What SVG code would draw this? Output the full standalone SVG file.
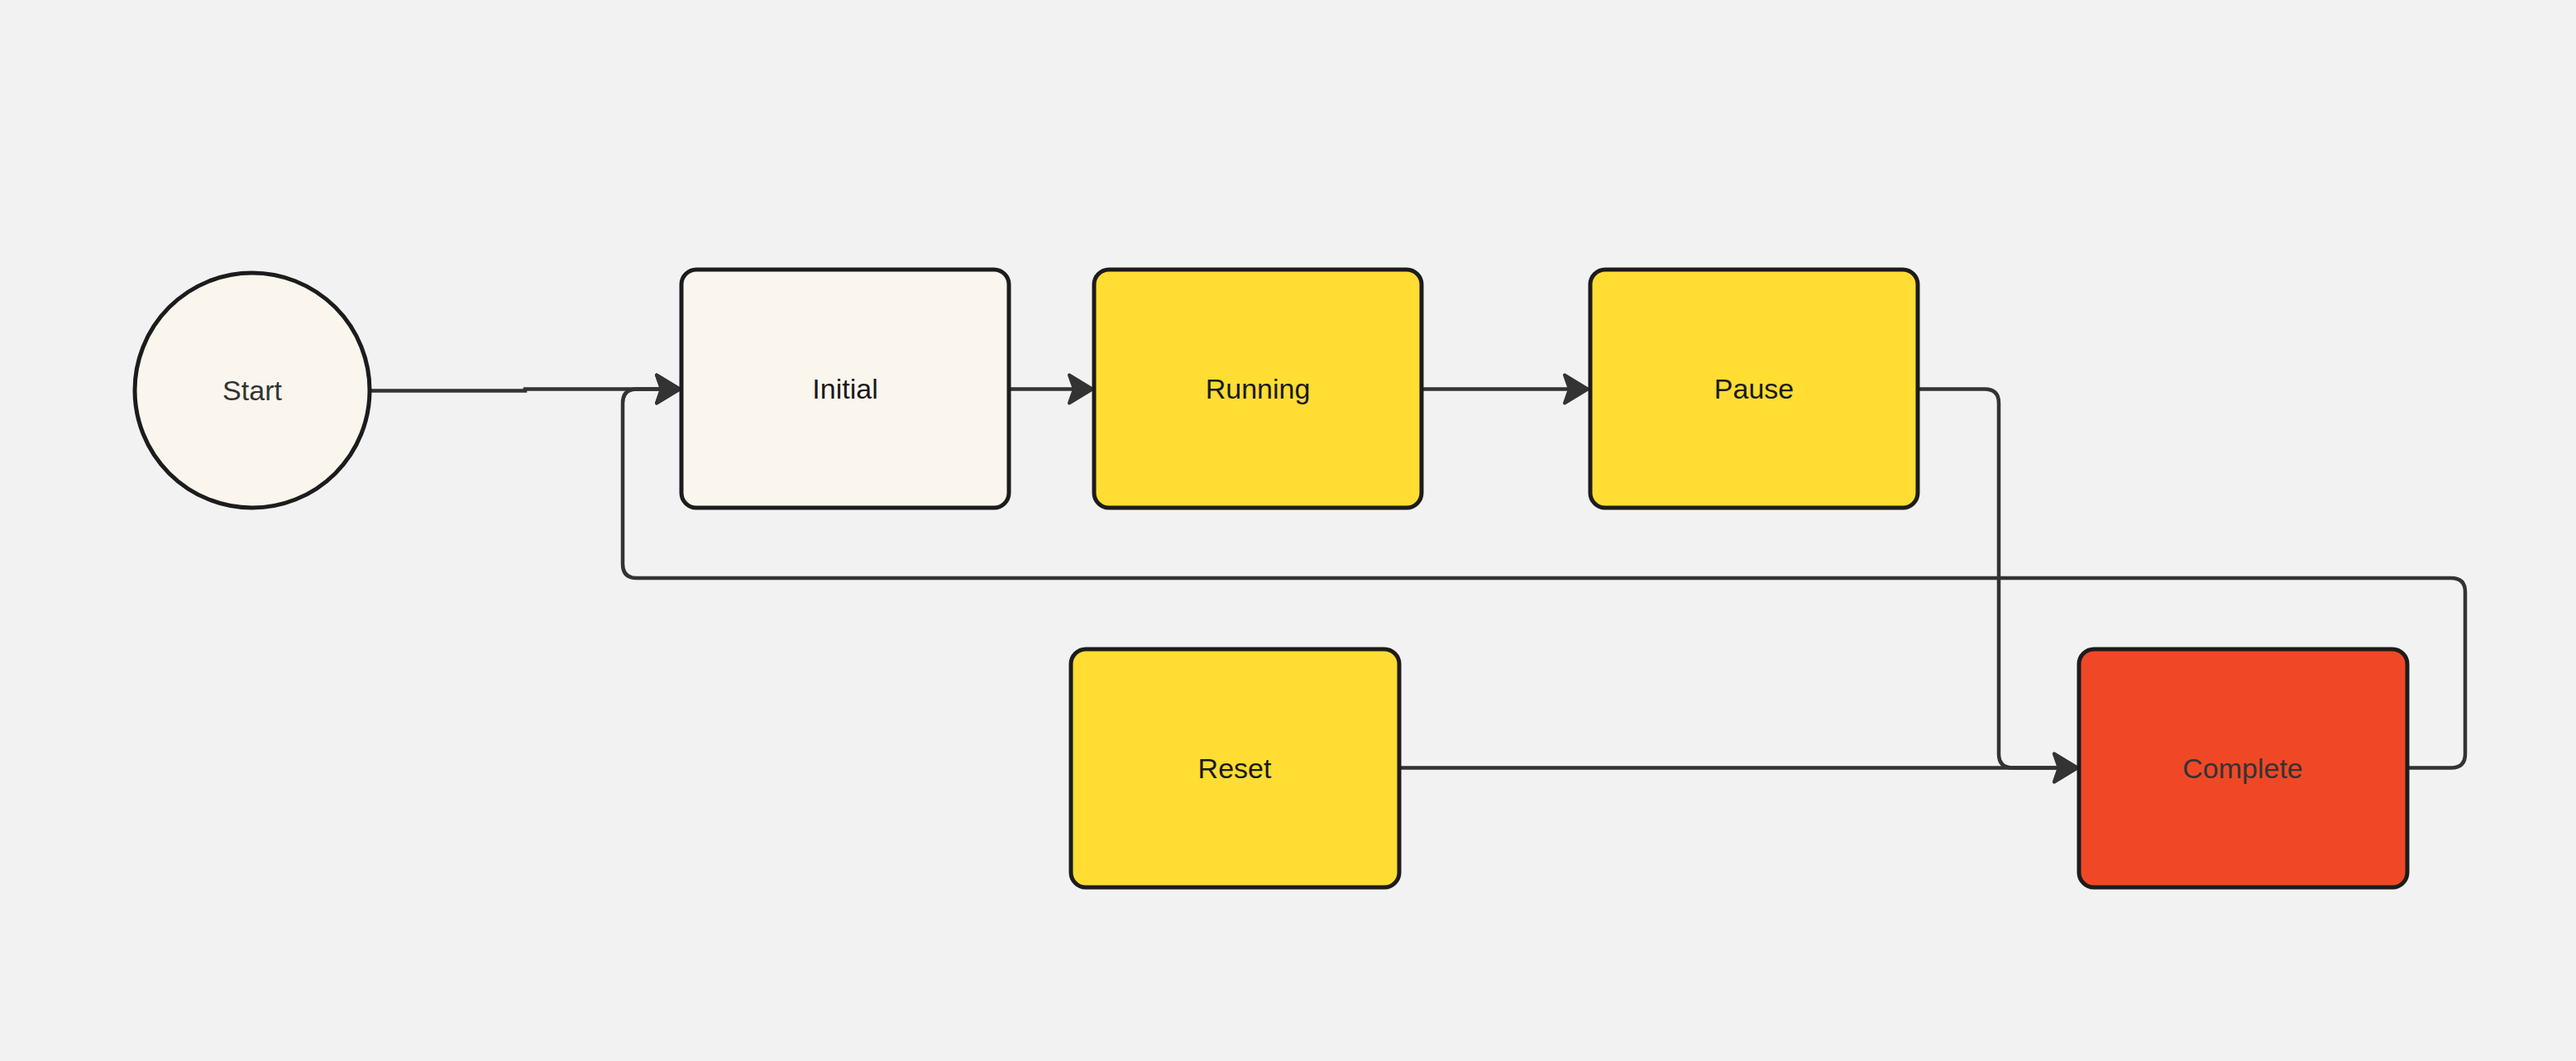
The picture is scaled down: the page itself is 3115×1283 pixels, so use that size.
<svg xmlns="http://www.w3.org/2000/svg" width="3115" height="1283" viewBox="0 0 3115 1283">
  <style>
    .node { stroke: #1c1c1c; stroke-width: 5; }
    .cream { fill: #faf6ee; }
    .yellow { fill: #ffdd33; }
    .red { fill: #f04826; }
    .label { font-family: "Liberation Sans", Arial, sans-serif; font-size: 34px; text-anchor: middle; dominant-baseline: central; fill: #1a1a1a; }
    .muted { fill: #333333; }
    .edge { fill: none; stroke: #333333; stroke-width: 4.5; }
  </style>
  <defs>
    <marker id="arrow" markerUnits="userSpaceOnUse" markerWidth="36" markerHeight="42" refX="32" refY="20" orient="auto">
      <path d="M4,3 L32,20 L4,37 L10,20 Z" fill="#333333" stroke="#333333" stroke-width="4" stroke-linejoin="round"/>
    </marker>
  </defs>

  <rect width="3115" height="1283" fill="#f2f2f2"/>

  <g id="connectors">
    <!-- Start -> Initial -->
    <path class="edge" d="M447,472.5 L635,472.5 L635,470.5 L822,470.5" marker-end="url(#arrow)"/>
    <!-- Initial -> Running -->
    <path class="edge" d="M1220,470.5 L1321,470.5" marker-end="url(#arrow)"/>
    <!-- Running -> Pause -->
    <path class="edge" d="M1719,470.5 L1920,470.5" marker-end="url(#arrow)"/>
    <!-- Pause -> Complete -->
    <path class="edge" d="M2319,470.5 L2400,470.5 Q2417,470.5 2417,487.5 L2417,911.5 Q2417,928.5 2434,928.5 L2512,928.5" marker-end="url(#arrow)"/>
    <!-- Reset -> Complete -->
    <path class="edge" d="M1692,928.5 L2512,928.5" marker-end="url(#arrow)"/>
    <!-- Complete -> Initial (loop back) -->
    <path class="edge" d="M2911,928.5 L2964,928.5 Q2981,928.5 2981,911.5 L2981,716 Q2981,699 2964,699 L770,699 Q753,699 753,682 L753,487.5 Q753,470.5 770,470.5 L822,470.5" marker-end="url(#arrow)"/>
  </g>

  <g id="start">
    <circle class="node cream" cx="305" cy="472" r="142"/>
    <text class="label muted" x="305" y="472">Start</text>
  </g>

  <g id="initial">
    <rect class="node cream" x="824" y="326" width="396" height="288" rx="18"/>
    <text class="label" x="1022" y="470">Initial</text>
  </g>

  <g id="running">
    <rect class="node yellow" x="1323" y="326" width="396" height="288" rx="18"/>
    <text class="label" x="1521" y="470">Running</text>
  </g>

  <g id="pause">
    <rect class="node yellow" x="1923" y="326" width="396" height="288" rx="18"/>
    <text class="label" x="2121" y="470">Pause</text>
  </g>

  <g id="reset">
    <rect class="node yellow" x="1295" y="785" width="397" height="288" rx="18"/>
    <text class="label" x="1493" y="929">Reset</text>
  </g>

  <g id="complete">
    <rect class="node red" x="2514" y="785" width="397" height="288" rx="18"/>
    <text class="label muted" x="2712" y="929">Complete</text>
  </g>
</svg>
